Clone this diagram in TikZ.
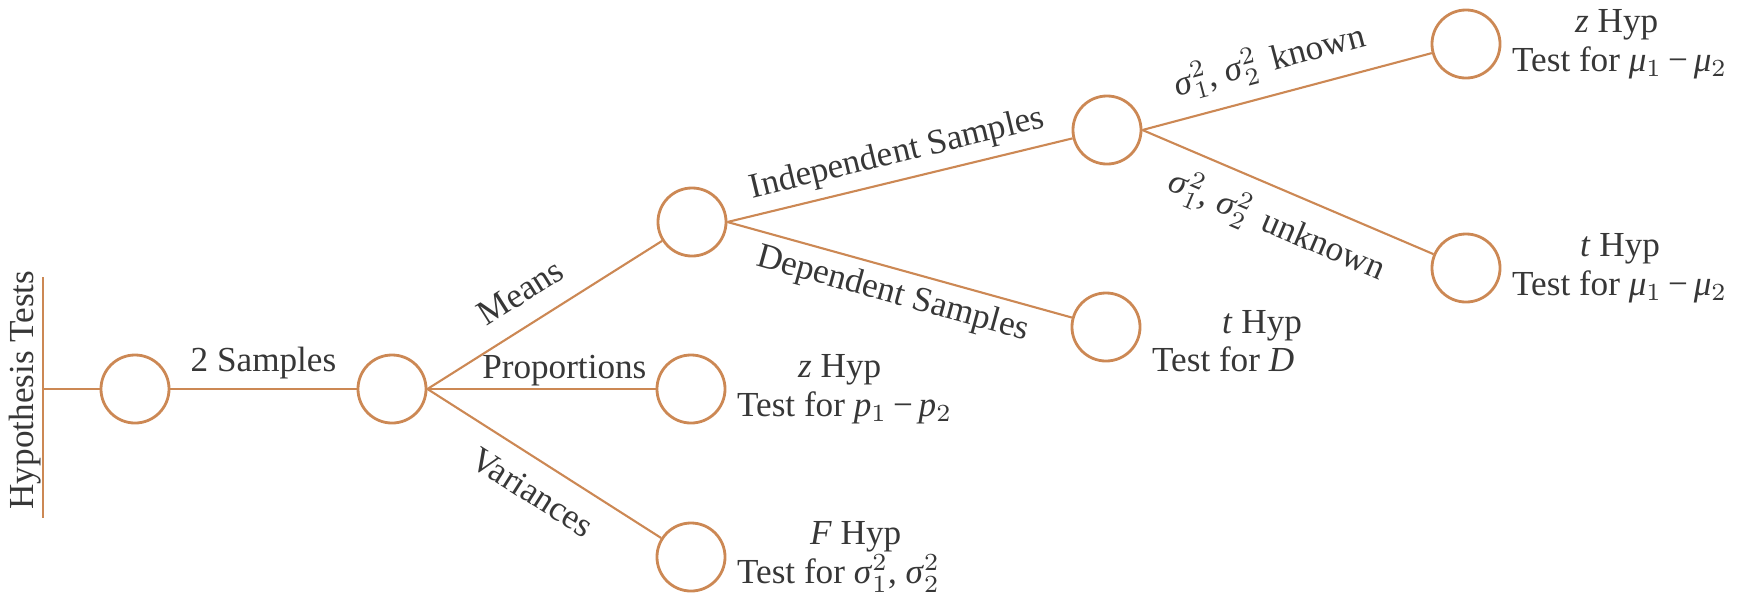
\documentclass[tikz,border=0pt]{standalone}
\usepackage{fontspec}
\setmainfont{Liberation Serif}
\usetikzlibrary{positioning}
\definecolor{branch}{RGB}{204,136,84}
\definecolor{ink}{RGB}{55,55,55}
\def\sigsq#1{\textit{σ}${}^2_{#1}$}
\def\itsub#1#2{\textit{#1}${}_{#2}$}
\tikzset{
	knot/.style={circle, draw=branch, line width=0.8pt, minimum size=0.68cm, inner sep=0pt},
	twig/.style={draw=branch, line width=0.6pt},
	lbl/.style={text=ink, font=\fontsize{10}{11}\selectfont, inner sep=2.5pt},
	result/.style={text=ink, font=\fontsize{10}{11}\selectfont, align=left, inner sep=0pt}
}

\begin{document}
\begin{tikzpicture}[x=0.01cm, y=-0.01cm]
			%%%%% START %%%%%
			\useasboundingbox (0,0) rectangle (1745,602);
			
			\coordinate (stemtop) at (43,277);
			\coordinate (stembot) at (43,518);
			\coordinate (stemmid) at (43,389);
			\node[lbl, rotate=90, anchor=south, inner sep=0pt] (hyptests) at (42,390) {Hypothesis Tests};
			
			\node[knot] (two) at (135,389) {};
			\node[knot] (split) at (392,389) {};
			\node[knot] (means) at (692,222) {};
			\node[knot] (props) at (691,389) {};
			\node[knot] (vars) at (691,557) {};
			\node[knot] (indep) at (1107,130) {};
			\node[knot] (dep) at (1106,327) {};
			\node[knot] (zmu) at (1466,44) {};
			\node[knot] (tmu) at (1466,268) {};
			
			\draw[twig] (stemtop) -- (stembot);
			\draw[twig] (stemmid) -- (two);
			\draw[twig] (two) -- node[lbl, above] (twolbl) {2 Samples} (split);
			
			\draw[twig] (split.east) -- node[lbl, above, sloped, pos=0.47, inner sep=5.5pt] (meanslbl) {Means} (means);
			\draw[twig] (split.east) -- node[lbl, above, pos=0.6, inner sep=0.5pt] (propslbl) {Proportions} (props);
			\draw[twig] (split.east) -- node[lbl, below, sloped, pos=0.52, inner sep=5pt] (varslbl) {Variances} (vars);
			
			\draw[twig] (means.east) -- node[lbl, above, sloped, pos=0.51] (indeplbl) {Independent Samples} (indep);
			\draw[twig] (means.east) -- node[lbl, below, sloped] (deplbl) {Dependent Samples} (dep);
			
			\draw[twig] (indep.east) -- node[lbl, above, sloped, pos=0.47, inner sep=4pt] (knownlbl) {\sigsq{1}, \sigsq{2}\, known} (zmu);
			\draw[twig] (indep.east) -- node[lbl, below, sloped, pos=0.51, inner sep=4.5pt] (unknownlbl) {\sigsq{1}, \sigsq{2}\, unknown} (tmu);
			
			% end results
			\node[result, right=1mm of props] (propstxt) {\hspace*{6.1mm}\textit{z} Hyp\\Test for \itsub{p}{1}\,−\,\itsub{p}{2}};
			\node[result, right=1mm of vars] (varstxt) {\hspace*{7.3mm}\textit{F} Hyp\\Test for \sigsq{1}, \sigsq{2}};
			\node[result, right=1mm of dep, yshift=-1.4mm] (deptxt) {\hspace*{7mm}\textit{t} Hyp\\Test for \textit{D}};
			\node[result, right=1mm of zmu] (zmutxt) {\hspace*{6.3mm}\textit{z} Hyp\\Test for \itsub{μ}{1}\,−\,\itsub{μ}{2}};
			\node[result, right=1mm of tmu] (tmutxt) {\hspace*{6.8mm}\textit{t} Hyp\\Test for \itsub{μ}{1}\,−\,\itsub{μ}{2}};
			
			%%%%% END %%%%%
\end{tikzpicture}
\end{document}
